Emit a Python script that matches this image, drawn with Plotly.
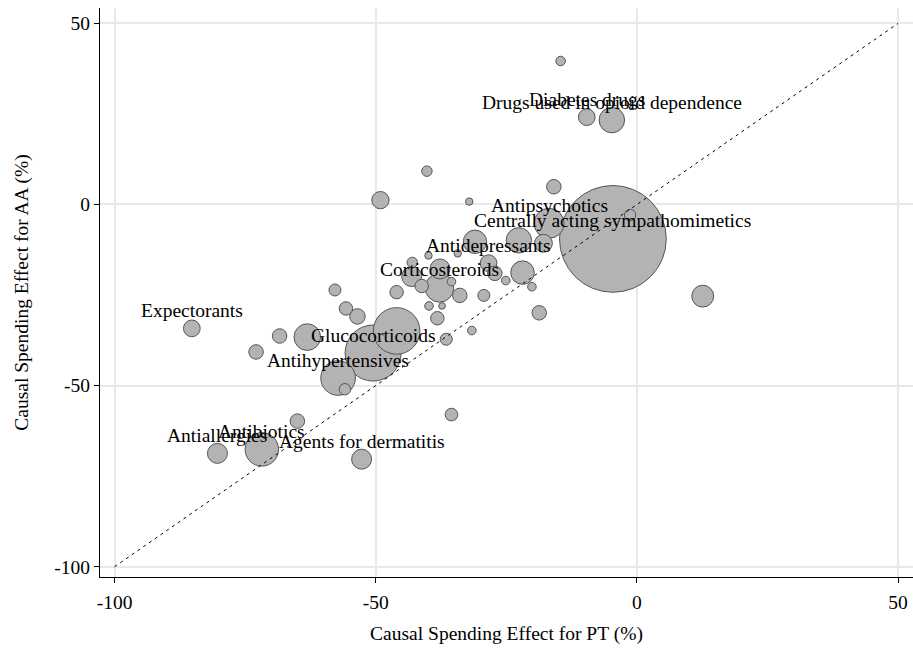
import plotly.graph_objects as go

# Drug classes: causal spending effects (%) for PT (x) and AA (y), bubble weight = spending share
effect_pt = [-14.6, -9.6, -4.8, -40.2, -49.1, -32.1, -15.9, -4.6, -1.3, -16.8,
             -22.6, -31.0, -17.9, -39.9, -34.3, -43.0, -37.7, -28.4, -27.2, -21.9,
             -25.1, -20.1, -43.1, -41.2, -37.8, -46.0, -33.9, -29.3, -35.5, -39.8,
             -37.3, -38.2, -18.7, -31.6, -36.5, -50.5, -46.0, -57.8, -55.7, -53.5,
             -68.4, -63.1, -72.9, -85.2, -57.2, -55.9, -65.0, -35.5, -80.3, -71.8,
             -52.7, 12.6]
effect_aa = [39.6, 24.1, 23.3, 9.2, 1.2, 0.8, 4.9, -9.5, -2.9, -5.2,
             -9.9, -10.3, -10.7, -14.1, -13.5, -16.0, -17.8, -16.2, -19.0, -18.8,
             -21.0, -22.7, -19.9, -22.5, -23.0, -24.2, -25.1, -25.1, -21.3, -28.0,
             -28.0, -31.4, -29.9, -34.8, -37.2, -41.0, -34.9, -23.6, -28.7, -30.9,
             -36.3, -36.6, -40.7, -34.2, -47.9, -51.0, -59.8, -58.0, -68.7, -67.6,
             -70.3, -25.3]
weight = [0.9, 2.8, 6.5, 1.1, 3.0, 0.55, 2.1, 114.0, 1.3, 9.0,
          6.45, 5.5, 3.2, 0.55, 0.55, 1.1, 4.0, 2.8, 2.1, 5.5,
          0.74, 0.74, 4.0, 1.8, 8.2, 1.8, 2.1, 1.44, 0.74, 0.74,
          0.44, 1.8, 2.1, 0.74, 1.44, 31.4, 21.7, 1.44, 1.8, 2.4,
          2.1, 7.1, 2.1, 2.8, 12.0, 1.3, 2.1, 1.6, 4.0, 11.2,
          4.0, 4.8]
label = ["", "Diabetes drugs", "Drugs used in opioid dependence", "", "", "", "",
         "Centrally acting sympathomimetics", "", "Antipsychotics",
         "", "", "", "", "", "", "", "Antidepressants", "", "",
         "", "", "", "", "Corticosteroids", "", "", "", "", "",
         "", "", "", "", "", "Glucocorticoids", "", "", "", "",
         "", "", "", "Expectorants", "Antihypertensives", "", "", "", "Antiallergies", "Antibiotics",
         "Agents for dermatitis", ""]

# 45-degree reference line
diag = [-100, 50]

x_ticks = [-100, -50, 0, 50]
y_ticks = [-100, -50, 0, 50]

FONT = "Liberation Serif"

# draw larger bubbles first so smaller ones stay visible on top
order = sorted(range(len(weight)), key=lambda i: -weight[i])

fig = go.Figure()
fig.add_trace(go.Scatter(
    x=[effect_pt[i] for i in order],
    y=[effect_aa[i] for i in order],
    mode="markers",
    marker=dict(
        size=[weight[i] for i in order],
        sizemode="area",
        sizeref=0.02,
        color="#b3b3b3",
        opacity=1,
        line=dict(color="#555555", width=1),
    ),
    hoverinfo="skip",
    showlegend=False,
))
fig.add_trace(go.Scatter(
    x=diag, y=diag, mode="lines",
    line=dict(color="black", width=1, dash="3px,4px"),
    hoverinfo="skip", showlegend=False,
))

for xv, yv, txt in zip(effect_pt, effect_aa, label):
    if txt:
        fig.add_annotation(
            x=xv, y=yv, text=txt, showarrow=False, yshift=18,
            font=dict(family=FONT, size=19.5, color="black"),
        )

axis_common = dict(
    showgrid=True, gridcolor="#e8e8e8", gridwidth=2,
    zeroline=False, showline=True, linecolor="black", linewidth=1,
    ticks="outside", ticklen=5, tickcolor="black", tickwidth=1,
    tickfont=dict(family=FONT, size=19.5, color="black"),
    mirror=False,
)

fig.update_layout(
    width=913, height=648,
    margin=dict(l=100, r=0, t=8, b=71),
    paper_bgcolor="white", plot_bgcolor="white",
    xaxis=dict(
        range=[-102.78, 52.85], tickvals=x_ticks, ticktext=[str(v) for v in x_ticks],
        ticklabelstandoff=3,
        title=dict(text="Causal Spending Effect for PT (%)",
                   font=dict(family=FONT, size=19.5, color="black"), standoff=13),
        **axis_common,
    ),
    yaxis=dict(
        range=[-102.83, 54.24], tickvals=y_ticks, ticktext=[str(v) for v in y_ticks],
        title=dict(text="Causal Spending Effect for AA (%)",
                   font=dict(family=FONT, size=19.5, color="black"), standoff=20),
        **axis_common,
    ),
)

fig.write_html("out.html")
